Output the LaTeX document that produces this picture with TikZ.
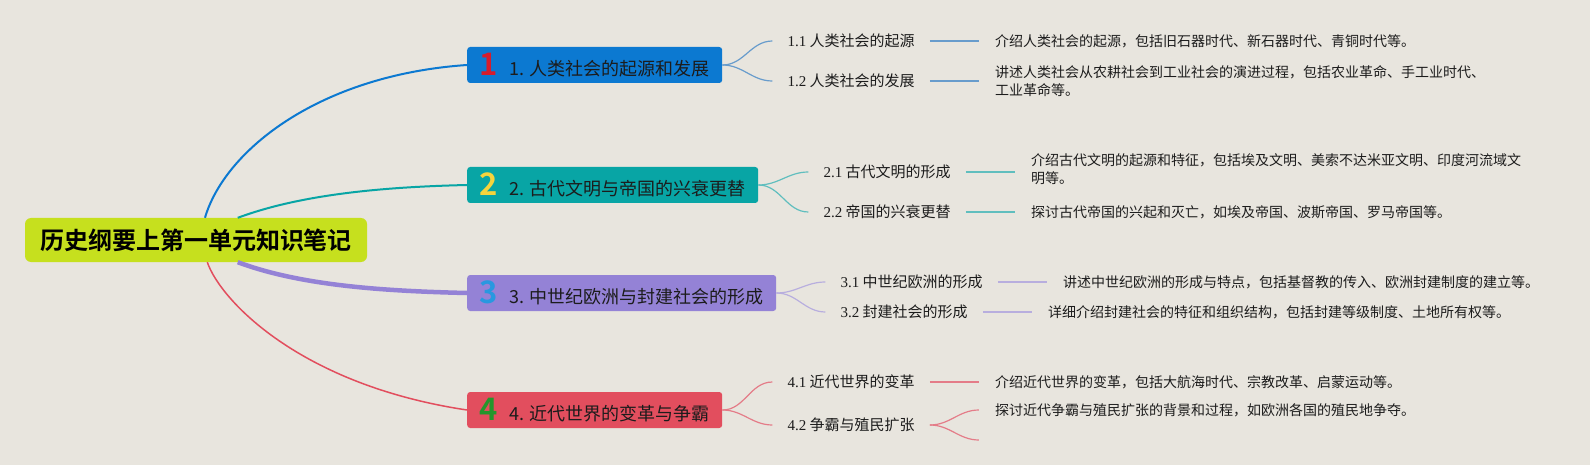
\documentclass[tikz,border=0pt]{standalone}
\usepackage{fontspec}
\setmainfont{Noto Sans CJK SC}[BoldFont={Noto Sans CJK SC Bold}]
\newfontfamily\numserif{Liberation Serif}
\usepackage{tikz}
\usetikzlibrary{positioning}
\definecolor{bgpaper}{RGB}{232,229,222}
\definecolor{rootgreen}{RGB}{198,224,30}
\definecolor{blueone}{RGB}{12,121,209}
\definecolor{tealtwo}{RGB}{8,165,165}
\definecolor{purplethree}{RGB}{148,130,214}
\definecolor{redfour}{RGB}{226,78,94}
\definecolor{bluesub}{RGB}{104,156,204}
\definecolor{tealsub}{RGB}{96,190,190}
\definecolor{purplesub}{RGB}{184,174,222}
\definecolor{redsub}{RGB}{228,124,136}
\definecolor{numred}{RGB}{214,28,44}
\definecolor{numyellow}{RGB}{245,212,60}
\definecolor{numblue}{RGB}{40,152,224}
\definecolor{numgreen}{RGB}{36,150,44}
\definecolor{inkdark}{RGB}{28,28,28}
\newcommand{\bignum}[2]% colour, digit
{{\color{#1}\fontsize{31}{31}\selectfont\bfseries #2}\hspace{7pt}
}

\begin{document}
\begin{tikzpicture}[x=1pt,y=-1pt,
	root/.style={fill=rootgreen, rounded corners=6pt, minimum width=342pt, minimum height=44pt, inner sep=0pt, font=\fontsize{24}{24}\selectfont\bfseries, text=black},
	topic/.style={anchor=west, rounded corners=3pt, minimum height=36pt, inner sep=0pt, font=\fontsize{18}{18}\selectfont, text=inkdark},
	sublabel/.style={inner xsep=15pt, inner ysep=2pt, font=\fontsize{15}{15}\selectfont, text=inkdark},
	note/.style={inner xsep=16pt, inner ysep=2pt, align=left, font=\fontsize{14}{18.5}\selectfont, text=inkdark}]
	\useasboundingbox (0,0) rectangle (1590,465);
	\fill[bgpaper] (0,0) rectangle (1590,465);
	\node[root] (root) at (196,240){历史纲要上第一单元知识笔记};
	\node[topic, fill=blueone, minimum width=255pt] (t1) at (467,65){\bignum{numred}{1}1. 人类社会的起源和发展};
	\node[topic, fill=tealtwo, minimum width=291pt] (t2) at (467,185){\bignum{numyellow}{2}2. 古代文明与帝国的兴衰更替};
	\node[topic, fill=purplethree, minimum width=309pt] (t3) at (467,293){\bignum{numblue}{3}3. 中世纪欧洲与封建社会的形成};
	\node[topic, fill=redfour, minimum width=255pt] (t4) at (467,410){\bignum{numgreen}{4}4. 近代世界的变革与争霸};
	\draw[blueone, line width=2pt] (root.68) .. controls +(20,-68) and +(-147,10) .. (t1.west);
	\draw[tealtwo, line width=2pt] (root.28) .. controls +(62,-23) and +(-87,2) .. (t2.west);
	\draw[purplethree, line width=4.5pt] (root.-28) .. controls +(62,23) and +(-87,-2) .. (t3.west);
	\draw[redfour, line width=1.5pt] (root.-63) .. controls +(13,38) and +(-167,-25) .. (t4.west);
	% 1
	\node[sublabel, right=50pt of t1, yshift=24pt] (s11){{\numserif 1.1} 人类社会的起源};
	\node[sublabel, right=50pt of t1, yshift=-16pt] (s12){{\numserif 1.2} 人类社会的发展};
	\node[note, right=49pt of s11] (d11){介绍人类社会的起源，包括旧石器时代、新石器时代、青铜时代等。};
	\node[note, right=49pt of s12] (d12){讲述人类社会从农耕社会到工业社会的演进过程，包括农业革命、手工业时代、\\工业革命等。};
	\draw[bluesub, line width=1.2pt] (t1.east) to[out=0,in=180] (s11.west);
	\draw[bluesub, line width=1.2pt] (t1.east) to[out=0,in=180] (s12.west);
	\draw[bluesub, line width=1.5pt] (s11.east) -- (d11.west);
	\draw[bluesub, line width=1.5pt] (s12.east) -- (d12.west);
	% 2
	\node[sublabel, right=50pt of t2, yshift=13pt] (s21){{\numserif 2.1} 古代文明的形成};
	\node[sublabel, right=50pt of t2, yshift=-27pt] (s22){{\numserif 2.2} 帝国的兴衰更替};
	\node[note, right=49pt of s21, yshift=3pt] (d21){介绍古代文明的起源和特征，包括埃及文明、美索不达米亚文明、印度河流域文\\明等。};
	\node[note, right=49pt of s22] (d22){探讨古代帝国的兴起和灭亡，如埃及帝国、波斯帝国、罗马帝国等。};
	\draw[tealsub, line width=1.2pt] (t2.east) to[out=0,in=180] (s21.west);
	\draw[tealsub, line width=1.2pt] (t2.east) to[out=0,in=180] (s22.west);
	\draw[tealsub, line width=1.5pt] (s21.east) -- (s21.east -| d21.west);
	\draw[tealsub, line width=1.5pt] (s22.east) -- (d22.west);
	% 3
	\node[sublabel, right=49pt of t3, yshift=11pt] (s31){{\numserif 3.1} 中世纪欧洲的形成};
	\node[sublabel, right=49pt of t3, yshift=-19pt] (s32){{\numserif 3.2} 封建社会的形成};
	\node[note, right=49pt of s31] (d31){讲述中世纪欧洲的形成与特点，包括基督教的传入、欧洲封建制度的建立等。};
	\node[note, right=49pt of s32] (d32){详细介绍封建社会的特征和组织结构，包括封建等级制度、土地所有权等。};
	\draw[purplesub, line width=1.2pt] (t3.east) to[out=0,in=180] (s31.west);
	\draw[purplesub, line width=1.2pt] (t3.east) to[out=0,in=180] (s32.west);
	\draw[purplesub, line width=1.5pt] (s31.east) -- (d31.west);
	\draw[purplesub, line width=1.5pt] (s32.east) -- (d32.west);
	% 4
	\node[sublabel, right=50pt of t4, yshift=28pt] (s41){{\numserif 4.1} 近代世界的变革};
	\node[sublabel, right=50pt of t4, yshift=-15pt] (s42){{\numserif 4.2} 争霸与殖民扩张};
	\node[note, right=49pt of s41] (d41){介绍近代世界的变革，包括大航海时代、宗教改革、启蒙运动等。};
	\node[note, right=49pt of s42, yshift=15pt] (d42){探讨近代争霸与殖民扩张的背景和过程，如欧洲各国的殖民地争夺。};
	\coordinate[right=49pt of s42, yshift=-15pt] (e42);
	\draw[redsub, line width=1.2pt] (t4.east) to[out=0,in=180] (s41.west);
	\draw[redsub, line width=1.2pt] (t4.east) to[out=0,in=180] (s42.west);
	\draw[redsub, line width=1.5pt] (s41.east) -- (d41.west);
	\draw[redsub, line width=1.2pt] (s42.east) to[out=0,in=180] (d42.west);
	\draw[redsub, line width=1.2pt] (s42.east) to[out=0,in=180] (e42);
\end{tikzpicture}
\end{document}
